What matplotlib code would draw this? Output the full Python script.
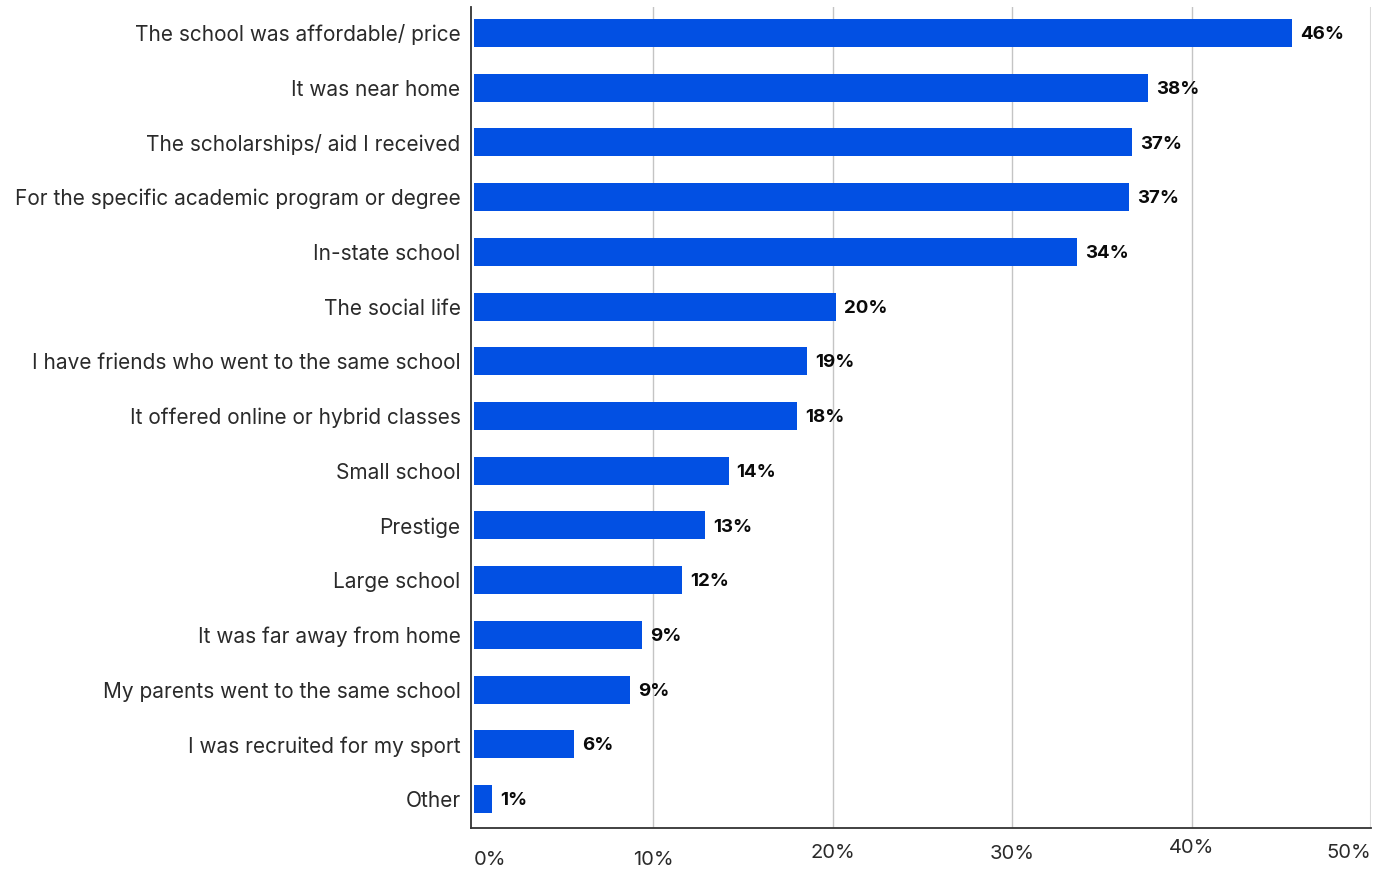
import matplotlib.pyplot as plt
from matplotlib.transforms import blended_transform_factory

plt.rcParams["font.family"] = ["Inter", "DejaVu Sans"]

reasons = [
    "The school was affordable/ price",
    "It was near home",
    "The scholarships/ aid I received",
    "For the specific academic program or degree",
    "In-state school",
    "The social life",
    "I have friends who went to the same school",
    "It offered online or hybrid classes",
    "Small school",
    "Prestige",
    "Large school",
    "It was far away from home",
    "My parents went to the same school",
    "I was recruited for my sport",
    "Other",
]
shares = [45.6, 37.6, 36.7, 36.51, 33.6, 20.2, 18.6, 18.0, 14.2, 12.9, 11.6, 9.4, 8.7, 5.6, 1.0]

x_ticks = [0, 10, 20, 30, 40, 50]
x_tick_labels = ["0%", "10%", "20%", "30%", "40%", "50%"]

BLUE = "#0250e3"

fig = plt.figure(figsize=(13.87, 8.73), dpi=100)
ax = fig.add_axes([471 / 1387, 1 - 828 / 873, 900 / 1387, 821 / 873])

pos = list(range(len(reasons)))
ax.barh(pos, shares, height=0.51, color=BLUE, zorder=3)

for p, v in zip(pos, shares):
    ax.text(v + 0.45, p + 0.03, f"{v:.0f}%", va="center", ha="left",
            fontsize=13.5, fontweight="bold", color="#0a0a0a", zorder=4)

ax.set_xlim(-0.15, 50)
ax.set_ylim(14.53, -0.475)

ax.set_yticks(pos)
ax.set_yticklabels(reasons, fontsize=15, color="#2a2a2a")
ax.tick_params(axis="y", length=0, pad=7.5)

# gridlines at each 10%, the last one a bit lighter and wider
for t in x_ticks[1:-1]:
    ax.axvline(t, color="#c4c4c4", linewidth=1, zorder=1)
ax.axvline(50, color="#d9d9d9", linewidth=2.2, zorder=1)

ax.set_xticks([])
trans = blended_transform_factory(ax.transData, fig.transFigure)
label_y = [860, 860, 853, 854, 848, 853]
label_ha = ["left", "center", "center", "center", "center", "right"]
for t, lab, yy, ha in zip(x_ticks, x_tick_labels, label_y, label_ha):
    ax.text(t, 1 - yy / 873, lab, transform=trans, ha=ha, va="center",
            fontsize=14.5, color="#2a2a2a", clip_on=False)

for side in ["top", "right"]:
    ax.spines[side].set_visible(False)
ax.spines["left"].set_color("#333333")
ax.spines["bottom"].set_color("#333333")
ax.spines["left"].set_linewidth(1.3)
ax.spines["bottom"].set_linewidth(1.3)

fig.savefig("out.png", dpi=100)
